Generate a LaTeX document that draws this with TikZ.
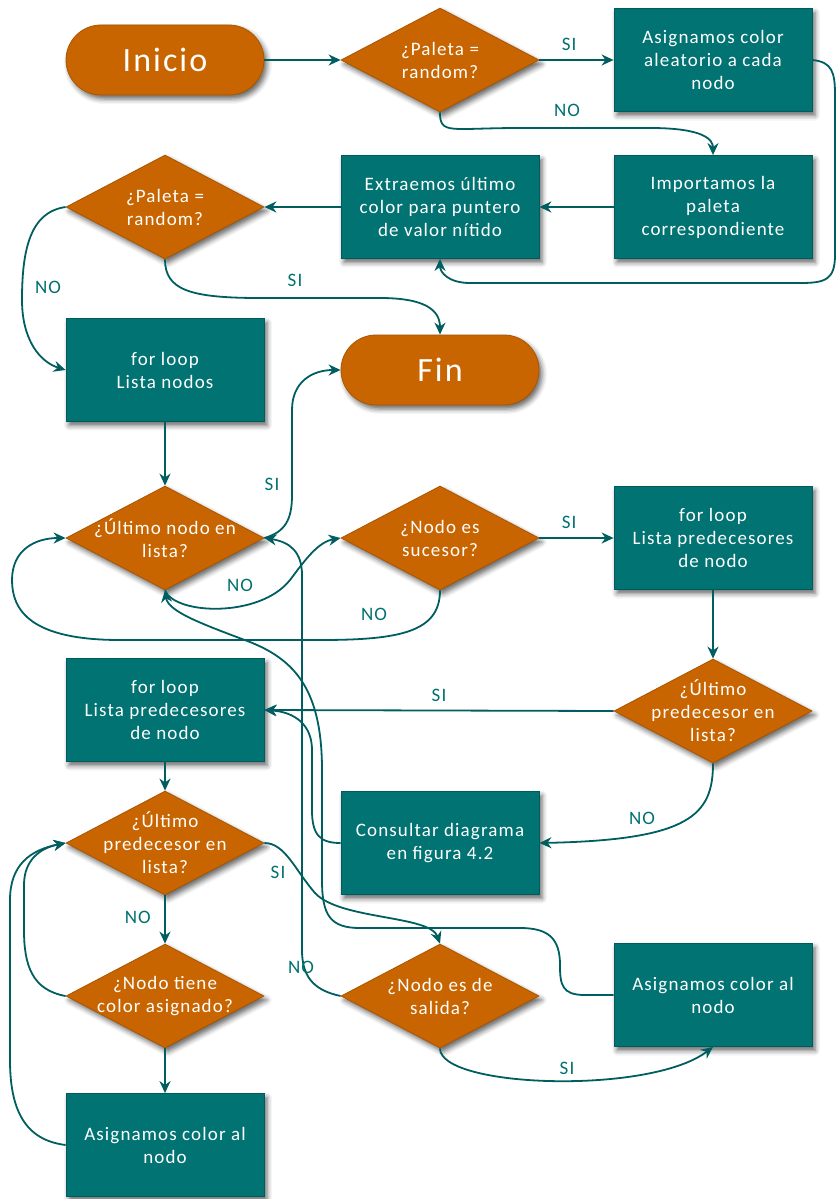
\documentclass[tikz,border=0pt]{standalone}
\usepackage{fontspec}
\setmainfont{Carlito}[LetterSpace=6]
\usetikzlibrary{arrows.meta,shapes.geometric,shadows.blur}

\definecolor{tealfill}{RGB}{0,115,114}
\definecolor{tealedge}{RGB}{0,92,92}
\definecolor{orangefill}{RGB}{200,101,0}
\definecolor{orangeedge}{RGB}{170,85,0}
\definecolor{wire}{RGB}{0,94,96}
\definecolor{tagcol}{RGB}{0,112,112}

\tikzset{
  x=1pt, y=-1pt,
  softshadow/.style={blur shadow={shadow xshift=3pt, shadow yshift=-4pt,
      shadow blur radius=5pt, shadow opacity=60}},
  txt/.style={text=white, align=center, font=\fontsize{19}{23}\selectfont},
  stepbox/.style={rectangle, fill=tealfill, draw=tealedge, line width=0.8pt,
      minimum width=198pt, minimum height=103pt, inner sep=0pt, softshadow, txt},
  terminal/.style={rectangle, rounded corners=35pt, fill=orangefill, draw=orangeedge,
      line width=0.8pt, minimum width=198pt, minimum height=70pt, inner sep=0pt,
      softshadow, text=white, font=\fontsize{34}{38}\selectfont},
  decision/.style={diamond, fill=orangefill, draw=orangeedge, line width=0.8pt,
      minimum width=198pt, minimum height=104pt, inner sep=0pt, softshadow},
  flow/.style={draw=wire, line width=1.8pt, -{Stealth[length=12pt,width=11pt]}},
  tag/.style={text=tagcol, font=\fontsize{19}{21}\selectfont},
}

\begin{document}
\begin{tikzpicture}
\useasboundingbox (0,0) rectangle (836,1199);

% --- nodes ---
\node[terminal] (inicio) at (165,60) {Inicio};
\node[decision, label={[txt]center:¿Paleta =\\random?}] (p1) at (440,60) {};
\node[stepbox] (asig1) at (713,60) {Asignamos color\\aleatorio a cada\\nodo};
\node[stepbox] (imp) at (713,207) {Importamos la\\paleta\\correspondiente};
\node[stepbox] (extr) at (440,207) {Extraemos último\\color para puntero\\de valor nítido};
\node[decision, label={[txt]center:¿Paleta =\\random?}] (p2) at (165,207) {};
\node[stepbox] (forn) at (165,370) {for loop\\Lista nodos};
\node[terminal] (fin) at (440,370) {Fin};
\node[decision, label={[txt]center:¿Último nodo en\\lista?}] (un) at (165,538) {};
\node[decision, label={[txt]center:¿Nodo es\\sucesor?}] (suc) at (440,538) {};
\node[stepbox] (predr) at (713,538) {for loop\\Lista predecesores\\de nodo};
\node[decision, label={[txt]center:¿Último\\predecesor en\\lista?}] (prr) at (713,711) {};
\node[stepbox] (predl) at (165,710) {for loop\\Lista predecesores\\de nodo};
\node[stepbox] (cons) at (440,843) {Consultar diagrama\\en figura 4.2};
\node[decision, label={[txt]center:¿Último\\predecesor en\\lista?}] (prl) at (165,843) {};
\node[decision, label={[txt]center:¿Nodo tiene\\color asignado?}] (ntc) at (165,996) {};
\node[decision, label={[txt]center:¿Nodo es de\\salida?}] (sal) at (440,996) {};
\node[stepbox] (asr) at (713,995) {Asignamos color al\\nodo};
\node[stepbox] (asl) at (165,1145) {Asignamos color al\\nodo};

% --- connectors ---
\draw[flow] (inicio) -- (p1);
\draw[flow] (p1) -- node[tag, above=5pt, pos=0.4] {SI} (asig1);
\draw[flow] (p1.south) .. controls (440,135) and (450,128) .. (520,128)
  -- (650,128) .. controls (705,128) and (713,140) .. (imp.north);
\node[tag] (tno1) at (567,110) {NO};
\draw[flow] (asig1.east) .. controls (832,62) and (835,72) .. (835,95)
  -- (835,255) .. controls (835,280) and (825,283) .. (800,283)
  -- (470,283) .. controls (448,283) and (440,272) .. (extr.south);
\draw[flow] (imp) -- (extr);
\draw[flow] (extr) -- (p2);
\draw[flow] (p2.west) .. controls (30,212) and (22,250) .. (22,300)
  .. controls (22,340) and (40,362) .. (forn.west);
\node[tag] (tno2) at (48,287) {NO};
\draw[flow] (p2.south) .. controls (165,290) and (190,298) .. (260,298)
  -- (380,298) .. controls (425,298) and (440,310) .. (fin.north);
\node[tag] (tsi2) at (295,280) {SI};
\draw[flow] (forn) -- (un);
\draw[flow] (un.east) .. controls (285,532) and (292,520) .. (292,495)
  -- (292,410) .. controls (292,382) and (312,370) .. (fin.west);
\node[tag] (tsi3) at (272,484) {SI};
\draw[flow] (un.south) .. controls (175,615) and (260,618) .. (290,580)
  .. controls (305,560) and (318,542) .. (suc.west);
\node[tag] (tno3) at (240,585) {NO};
\draw[flow] (suc) -- node[tag, above=5pt, pos=0.4] {SI} (predr);
\draw[flow] (suc.south) .. controls (440,632) and (400,640) .. (320,640)
  -- (120,640) .. controls (30,640) and (12,610) .. (12,580)
  .. controls (12,550) and (35,538) .. (un.west);
\node[tag] (tno4) at (374,614) {NO};
\draw[flow] (predr) -- (prr);
\draw[flow] (prr.west) -- node[tag, above=5pt] {SI} (predl.east);
\draw[flow] (prr.south) .. controls (713,815) and (690,840) .. (cons.east);
\node[tag] (tno5) at (642,818) {NO};
\draw[flow] (cons.west) .. controls (320,843) and (312,835) .. (312,810)
  -- (312,750) .. controls (312,725) and (295,712) .. (predl.east);
\draw[flow] (predl) -- (prl);
\draw[flow] (prl) -- node[tag, left=10pt, pos=0.45] {NO} (ntc);
\draw[flow] (prl.east) .. controls (285,843) and (295,870) .. (315,893)
  .. controls (340,920) and (430,915) .. (sal.north);
\node[tag] (tsi6) at (278,872) {SI};
\draw[flow] (sal.west) .. controls (312,990) and (302,975) .. (302,950)
  -- (302,575) .. controls (302,552) and (290,542) .. (un.east);
\node[tag] (tno7) at (301,967) {NO};
\draw[flow] (asr.west) -- (585,995) .. controls (562,995) and (560,985) .. (560,965)
  .. controls (560,938) and (548,928) .. (520,928)
  -- (360,928) .. controls (330,928) and (322,915) .. (322,880)
  -- (322,770) .. controls (322,690) and (295,660) .. (250,642)
  .. controls (205,625) and (168,612) .. (un.south);
\draw[flow] (sal.south) .. controls (440,1088) and (650,1095) .. (asr.south);
\node[tag] (tsi8) at (567,1068) {SI};
\draw[flow] (ntc) -- (asl);
\draw[flow] (ntc.west) .. controls (32,990) and (24,965) .. (24,930)
  -- (24,885) .. controls (24,860) and (40,848) .. (prl.west);
\draw[flow] (asl.west) .. controls (25,1140) and (10,1110) .. (10,1060)
  -- (10,900) .. controls (10,865) and (30,850) .. (prl.west);
\end{tikzpicture}
\end{document}
